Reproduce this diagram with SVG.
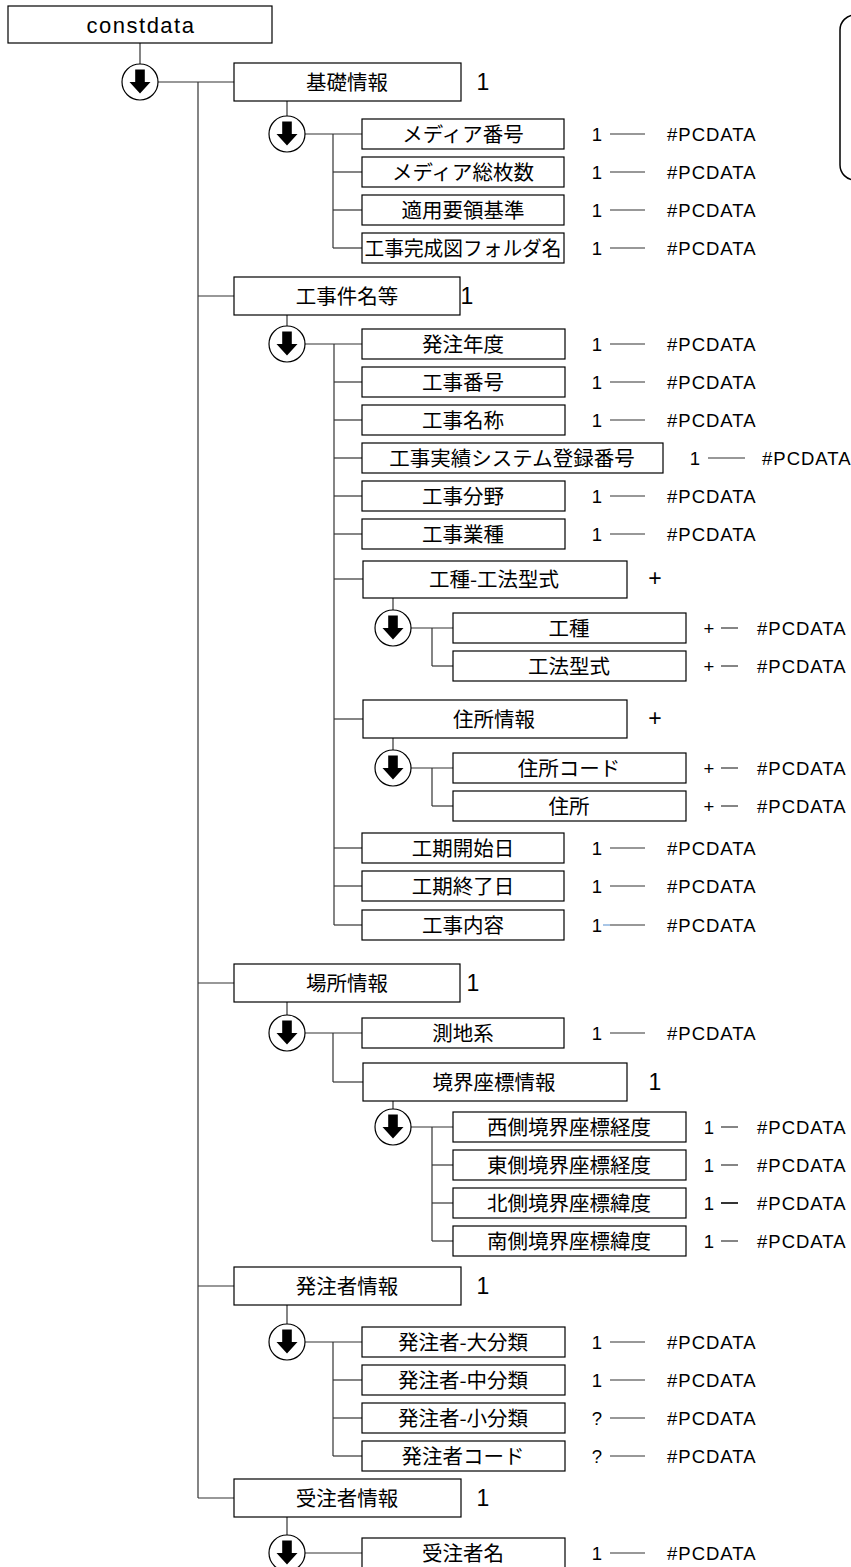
<svg xmlns="http://www.w3.org/2000/svg" width="851" height="1567" viewBox="0 0 851 1567">
<style>
.box{fill:#fff;stroke:#000;stroke-width:1.2}
.ln{stroke:#333;stroke-width:1.2;fill:none}
.jp{font-family:"Noto Sans CJK JP","Liberation Sans",sans-serif;font-size:20.5px;text-anchor:middle;fill:#000}
.lt{font-family:"Liberation Sans",sans-serif;font-size:18.5px;letter-spacing:1px;fill:#000}
.cd{font-family:"Liberation Sans",sans-serif;font-size:18.5px;text-anchor:middle;fill:#000}
.big{font-family:"Liberation Sans",sans-serif;font-size:23px;text-anchor:middle;fill:#000}
.root{font-family:"Liberation Sans",sans-serif;font-size:22px;letter-spacing:1.5px;text-anchor:middle;fill:#000}
.circ{fill:#fff;stroke:#000;stroke-width:1.2}
</style>
<defs>
<g id="seq">
<circle class="circ" cx="0" cy="0" r="18"/>
<path d="M-4.8,-12.5 H4.8 V0 H10.5 L0,11.5 L-10.5,0 H-4.8 Z" fill="#000"/>
</g>
</defs>

<g id="connectors">
<line class="ln" x1="140" y1="43" x2="140" y2="64"/>
<line class="ln" x1="158" y1="82" x2="234" y2="82"/>
<line class="ln" x1="198" y1="82" x2="198" y2="1498"/>
<line class="ln" x1="198" y1="296" x2="234" y2="296"/>
<line class="ln" x1="198" y1="983" x2="234" y2="983"/>
<line class="ln" x1="198" y1="1286" x2="234" y2="1286"/>
<line class="ln" x1="198" y1="1498" x2="234" y2="1498"/>
<line class="ln" x1="287" y1="101" x2="287" y2="116"/>
<line class="ln" x1="305" y1="134" x2="362" y2="134"/>
<line class="ln" x1="333" y1="134" x2="333" y2="248"/>
<line class="ln" x1="333" y1="172" x2="362" y2="172"/>
<line class="ln" x1="333" y1="210" x2="362" y2="210"/>
<line class="ln" x1="333" y1="248" x2="362" y2="248"/>
<line class="ln" x1="287" y1="315" x2="287" y2="326"/>
<line class="ln" x1="305" y1="344" x2="362" y2="344"/>
<line class="ln" x1="334" y1="344" x2="334" y2="925"/>
<line class="ln" x1="334" y1="382" x2="362" y2="382"/>
<line class="ln" x1="334" y1="420" x2="362" y2="420"/>
<line class="ln" x1="334" y1="458" x2="362" y2="458"/>
<line class="ln" x1="334" y1="496" x2="362" y2="496"/>
<line class="ln" x1="334" y1="534" x2="362" y2="534"/>
<line class="ln" x1="334" y1="579" x2="363" y2="579"/>
<line class="ln" x1="334" y1="719" x2="363" y2="719"/>
<line class="ln" x1="334" y1="848" x2="362" y2="848"/>
<line class="ln" x1="334" y1="886" x2="362" y2="886"/>
<line class="ln" x1="334" y1="925" x2="362" y2="925"/>
<line class="ln" x1="393" y1="598" x2="393" y2="610"/>
<line class="ln" x1="411" y1="628" x2="453" y2="628"/>
<line class="ln" x1="432" y1="628" x2="432" y2="666"/>
<line class="ln" x1="432" y1="666" x2="453" y2="666"/>
<line class="ln" x1="393" y1="738" x2="393" y2="750"/>
<line class="ln" x1="411" y1="768" x2="453" y2="768"/>
<line class="ln" x1="432" y1="768" x2="432" y2="806"/>
<line class="ln" x1="432" y1="806" x2="453" y2="806"/>
<line class="ln" x1="287" y1="1002" x2="287" y2="1015"/>
<line class="ln" x1="305" y1="1033" x2="362" y2="1033"/>
<line class="ln" x1="333" y1="1033" x2="333" y2="1082"/>
<line class="ln" x1="333" y1="1082" x2="363" y2="1082"/>
<line class="ln" x1="393" y1="1101" x2="393" y2="1109"/>
<line class="ln" x1="411" y1="1127" x2="453" y2="1127"/>
<line class="ln" x1="432" y1="1127" x2="432" y2="1241"/>
<line class="ln" x1="432" y1="1165" x2="453" y2="1165"/>
<line class="ln" x1="432" y1="1203" x2="453" y2="1203"/>
<line class="ln" x1="432" y1="1241" x2="453" y2="1241"/>
<line class="ln" x1="287" y1="1305" x2="287" y2="1324"/>
<line class="ln" x1="305" y1="1342" x2="362" y2="1342"/>
<line class="ln" x1="333" y1="1342" x2="333" y2="1456"/>
<line class="ln" x1="333" y1="1380" x2="362" y2="1380"/>
<line class="ln" x1="333" y1="1418" x2="362" y2="1418"/>
<line class="ln" x1="333" y1="1456" x2="362" y2="1456"/>
<line class="ln" x1="287" y1="1517" x2="287" y2="1535"/>
<line class="ln" x1="305" y1="1553" x2="362" y2="1553"/>
<g class="ln">
<line x1="610" y1="134" x2="645" y2="134"/>
<line x1="610" y1="172" x2="645" y2="172"/>
<line x1="610" y1="210" x2="645" y2="210"/>
<line x1="610" y1="248" x2="645" y2="248"/>
<line x1="610" y1="344" x2="645" y2="344"/>
<line x1="610" y1="382" x2="645" y2="382"/>
<line x1="610" y1="420" x2="645" y2="420"/>
<line x1="708" y1="458" x2="745" y2="458"/>
<line x1="610" y1="496" x2="645" y2="496"/>
<line x1="610" y1="534" x2="645" y2="534"/>
<line x1="721" y1="628" x2="738" y2="628"/>
<line x1="721" y1="666" x2="738" y2="666"/>
<line x1="721" y1="768" x2="738" y2="768"/>
<line x1="721" y1="806" x2="738" y2="806"/>
<line x1="610" y1="848" x2="645" y2="848"/>
<line x1="610" y1="886" x2="645" y2="886"/>
<line x1="610" y1="925" x2="645" y2="925"/>
<line x1="610" y1="1033" x2="645" y2="1033"/>
<line x1="721" y1="1127" x2="738" y2="1127"/>
<line x1="721" y1="1165" x2="738" y2="1165"/>
<line x1="721" y1="1203" x2="738" y2="1203" stroke-width="2"/>
<line x1="721" y1="1241" x2="738" y2="1241"/>
<line x1="610" y1="1342" x2="645" y2="1342"/>
<line x1="610" y1="1380" x2="645" y2="1380"/>
<line x1="610" y1="1418" x2="645" y2="1418"/>
<line x1="610" y1="1456" x2="645" y2="1456"/>
<line x1="610" y1="1553" x2="645" y2="1553"/>
</g>
<line x1="603" y1="925" x2="610" y2="925" stroke="#6f9fd6" stroke-width="1.2"/>
</g>

<g id="seq-nodes">
<use href="#seq" x="140" y="82"/>
<use href="#seq" x="287" y="134"/>
<use href="#seq" x="287" y="344"/>
<use href="#seq" x="393" y="628"/>
<use href="#seq" x="393" y="768"/>
<use href="#seq" x="287" y="1033"/>
<use href="#seq" x="393" y="1127"/>
<use href="#seq" x="287" y="1342"/>
<use href="#seq" x="287" y="1553"/>
</g>

<g id="note-bracket">
<rect x="840" y="15" width="60" height="165" rx="15" fill="none" stroke="#000" stroke-width="1.5"/>
</g>

<g id="n-constdata"><rect class="box" x="8" y="6" width="264" height="37"/><text class="root" x="141" y="32.5">constdata</text></g>

<g id="n-kiso"><rect class="box" x="234" y="63" width="227" height="38"/><text class="jp" x="347" y="89.5">基礎情報</text><text class="big" x="483" y="90">1</text></g>
<g id="n-media-no"><rect class="box" x="362" y="119" width="202" height="30"/><text class="jp" x="463" y="141.5">メディア番号</text><text class="cd" x="597" y="140.5">1</text><text class="lt" x="667" y="140.5">#PCDATA</text></g>
<g id="n-media-total"><rect class="box" x="362" y="157" width="202" height="30"/><text class="jp" x="463" y="179.5">メディア総枚数</text><text class="cd" x="597" y="178.5">1</text><text class="lt" x="667" y="178.5">#PCDATA</text></g>
<g id="n-tekiyo"><rect class="box" x="362" y="195" width="202" height="30"/><text class="jp" x="463" y="217.5">適用要領基準</text><text class="cd" x="597" y="216.5">1</text><text class="lt" x="667" y="216.5">#PCDATA</text></g>
<g id="n-folder"><rect class="box" x="362" y="233" width="202" height="30"/><text class="jp" x="463" y="255.5" textLength="197" lengthAdjust="spacingAndGlyphs">工事完成図フォルダ名</text><text class="cd" x="597" y="254.5">1</text><text class="lt" x="667" y="254.5">#PCDATA</text></g>

<g id="n-kenmei"><rect class="box" x="234" y="277" width="226" height="38"/><text class="jp" x="347" y="303.5">工事件名等</text><text class="big" x="467" y="304">1</text></g>
<g id="n-nendo"><rect class="box" x="362" y="329" width="203" height="30"/><text class="jp" x="463" y="351.5">発注年度</text><text class="cd" x="597" y="350.5">1</text><text class="lt" x="667" y="350.5">#PCDATA</text></g>
<g id="n-koji-no"><rect class="box" x="362" y="367" width="203" height="30"/><text class="jp" x="463" y="389.5">工事番号</text><text class="cd" x="597" y="388.5">1</text><text class="lt" x="667" y="388.5">#PCDATA</text></g>
<g id="n-koji-name"><rect class="box" x="362" y="405" width="203" height="30"/><text class="jp" x="463" y="427.5">工事名称</text><text class="cd" x="597" y="426.5">1</text><text class="lt" x="667" y="426.5">#PCDATA</text></g>
<g id="n-jisseki"><rect class="box" x="362" y="443" width="301" height="30"/><text class="jp" x="512" y="465.5">工事実績システム登録番号</text><text class="cd" x="695" y="464.5">1</text><text class="lt" x="762" y="464.5">#PCDATA</text></g>
<g id="n-bunya"><rect class="box" x="362" y="481" width="203" height="30"/><text class="jp" x="463" y="503.5">工事分野</text><text class="cd" x="597" y="502.5">1</text><text class="lt" x="667" y="502.5">#PCDATA</text></g>
<g id="n-gyoshu"><rect class="box" x="362" y="519" width="203" height="30"/><text class="jp" x="463" y="541.5">工事業種</text><text class="cd" x="597" y="540.5">1</text><text class="lt" x="667" y="540.5">#PCDATA</text></g>

<g id="n-koshu-koho"><rect class="box" x="363" y="561" width="264" height="37"/><text class="jp" x="494" y="586.5">工種-工法型式</text><text class="big" x="655" y="586">+</text></g>
<g id="n-koshu"><rect class="box" x="453" y="613" width="233" height="30"/><text class="jp" x="569" y="635.5">工種</text><text class="cd" x="709" y="634.5">+</text><text class="lt" x="757" y="634.5">#PCDATA</text></g>
<g id="n-koho"><rect class="box" x="453" y="651" width="233" height="30"/><text class="jp" x="569" y="673.5">工法型式</text><text class="cd" x="709" y="672.5">+</text><text class="lt" x="757" y="672.5">#PCDATA</text></g>

<g id="n-jusho-info"><rect class="box" x="363" y="700" width="264" height="38"/><text class="jp" x="494" y="726.5">住所情報</text><text class="big" x="655" y="726">+</text></g>
<g id="n-jusho-code"><rect class="box" x="453" y="753" width="233" height="30"/><text class="jp" x="569" y="775.5">住所コード</text><text class="cd" x="709" y="774.5">+</text><text class="lt" x="757" y="774.5">#PCDATA</text></g>
<g id="n-jusho"><rect class="box" x="453" y="791" width="233" height="30"/><text class="jp" x="569" y="813.5">住所</text><text class="cd" x="709" y="812.5">+</text><text class="lt" x="757" y="812.5">#PCDATA</text></g>

<g id="n-start"><rect class="box" x="362" y="833" width="202" height="30"/><text class="jp" x="463" y="855.5">工期開始日</text><text class="cd" x="597" y="854.5">1</text><text class="lt" x="667" y="854.5">#PCDATA</text></g>
<g id="n-end"><rect class="box" x="362" y="871" width="202" height="30"/><text class="jp" x="463" y="893.5">工期終了日</text><text class="cd" x="597" y="892.5">1</text><text class="lt" x="667" y="892.5">#PCDATA</text></g>
<g id="n-naiyo"><rect class="box" x="362" y="910" width="202" height="30"/><text class="jp" x="463" y="932.5">工事内容</text><text class="cd" x="597" y="931.5">1</text><text class="lt" x="667" y="931.5">#PCDATA</text></g>

<g id="n-basho"><rect class="box" x="234" y="964" width="226" height="38"/><text class="jp" x="347" y="990.5">場所情報</text><text class="big" x="473" y="991">1</text></g>
<g id="n-sokuchi"><rect class="box" x="362" y="1018" width="202" height="30"/><text class="jp" x="463" y="1040.5">測地系</text><text class="cd" x="597" y="1039.5">1</text><text class="lt" x="667" y="1039.5">#PCDATA</text></g>
<g id="n-kyokai"><rect class="box" x="363" y="1063" width="264" height="38"/><text class="jp" x="494" y="1089.5">境界座標情報</text><text class="big" x="655" y="1090">1</text></g>
<g id="n-west"><rect class="box" x="453" y="1112" width="233" height="30"/><text class="jp" x="569" y="1134.5">西側境界座標経度</text><text class="cd" x="709" y="1133.5">1</text><text class="lt" x="757" y="1133.5">#PCDATA</text></g>
<g id="n-east"><rect class="box" x="453" y="1150" width="233" height="30"/><text class="jp" x="569" y="1172.5">東側境界座標経度</text><text class="cd" x="709" y="1171.5">1</text><text class="lt" x="757" y="1171.5">#PCDATA</text></g>
<g id="n-north"><rect class="box" x="453" y="1188" width="233" height="30"/><text class="jp" x="569" y="1210.5">北側境界座標緯度</text><text class="cd" x="709" y="1209.5">1</text><text class="lt" x="757" y="1209.5">#PCDATA</text></g>
<g id="n-south"><rect class="box" x="453" y="1226" width="233" height="30"/><text class="jp" x="569" y="1248.5">南側境界座標緯度</text><text class="cd" x="709" y="1247.5">1</text><text class="lt" x="757" y="1247.5">#PCDATA</text></g>

<g id="n-hatchu"><rect class="box" x="234" y="1267" width="227" height="38"/><text class="jp" x="347" y="1293.5">発注者情報</text><text class="big" x="483" y="1294">1</text></g>
<g id="n-dai"><rect class="box" x="362" y="1327" width="203" height="30"/><text class="jp" x="463" y="1349.5">発注者-大分類</text><text class="cd" x="597" y="1348.5">1</text><text class="lt" x="667" y="1348.5">#PCDATA</text></g>
<g id="n-chu"><rect class="box" x="362" y="1365" width="203" height="30"/><text class="jp" x="463" y="1387.5">発注者-中分類</text><text class="cd" x="597" y="1386.5">1</text><text class="lt" x="667" y="1386.5">#PCDATA</text></g>
<g id="n-sho"><rect class="box" x="362" y="1403" width="203" height="30"/><text class="jp" x="463" y="1425.5">発注者-小分類</text><text class="cd" x="597" y="1424.5">?</text><text class="lt" x="667" y="1424.5">#PCDATA</text></g>
<g id="n-hcode"><rect class="box" x="362" y="1441" width="203" height="30"/><text class="jp" x="463" y="1463.5">発注者コード</text><text class="cd" x="597" y="1462.5">?</text><text class="lt" x="667" y="1462.5">#PCDATA</text></g>

<g id="n-juchu"><rect class="box" x="234" y="1479" width="227" height="38"/><text class="jp" x="347" y="1505.5">受注者情報</text><text class="big" x="483" y="1506">1</text></g>
<g id="n-juchu-name"><rect class="box" x="362" y="1538" width="203" height="30"/><text class="jp" x="463" y="1560.5">受注者名</text><text class="cd" x="597" y="1559.5">1</text><text class="lt" x="667" y="1559.5">#PCDATA</text></g>
</svg>
